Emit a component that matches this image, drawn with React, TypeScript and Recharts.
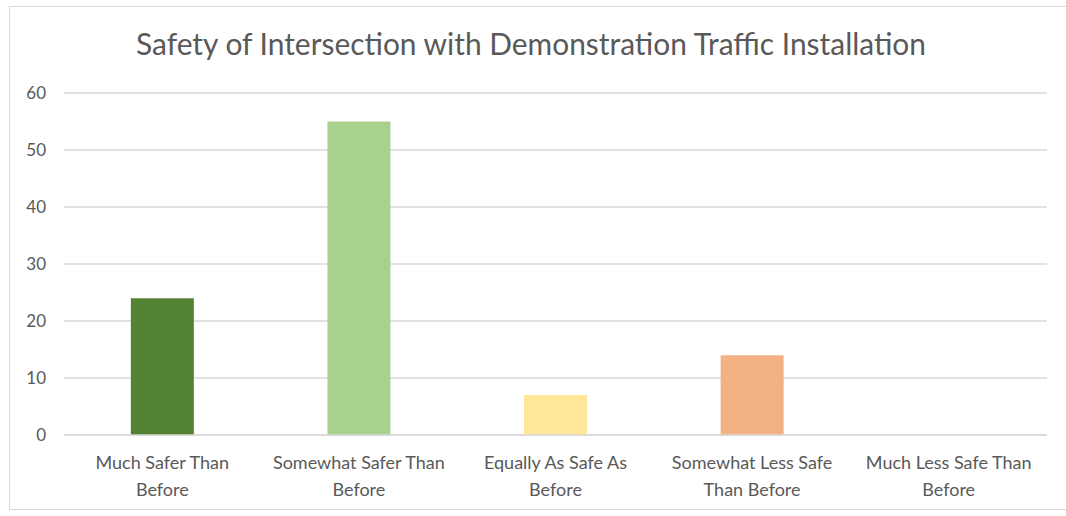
import React from "react";
import { BarChart, Bar, XAxis, YAxis, CartesianGrid, Cell } from "recharts";

const title = "Safety of Intersection with Demonstration Traffic Installation";
const categoryLines: string[][] = [
  ["Much Safer Than", "Before"],
  ["Somewhat Safer Than", "Before"],
  ["Equally As Safe As", "Before"],
  ["Somewhat Less Safe", "Than Before"],
  ["Much Less Safe Than", "Before"],
];
const categories = categoryLines.map((l) => l.join(" "));
const values = [24, 55, 7, 14, 0];
const barColors = ["#548235", "#a9d18e", "#ffe699", "#f4b183", "#c55a11"];
const yTicks = [0, 10, 20, 30, 40, 50, 60];

const data = categories.map((c, i) => ({ name: c, value: values[i] }));

const FONT = "Lato, 'Open Sans', sans-serif";
const GREY = "#595959";

const XTick = (props: any) => {
  const { x, y, payload } = props;
  const idx = categories.indexOf(payload.value);
  const lines = idx >= 0 ? categoryLines[idx] : [payload.value];
  return (
    <g>
      {lines.map((ln: string, i: number) => (
        <text
          key={i}
          x={x}
          y={y + 26 + i * 27}
          textAnchor="middle"
          fill={GREY}
          fontSize={18}
          fontFamily={FONT}
        >
          {ln}
        </text>
      ))}
    </g>
  );
};

export default function App() {
  return (
    <div
      style={{
        position: "absolute",
        left: 0,
        top: 0,
        width: 1066,
        height: 516,
        background: "#fff",
        overflow: "hidden",
      }}
    >
      <div
        style={{
          position: "absolute",
          left: 9,
          top: 6,
          width: 1080,
          height: 502,
          border: "1px solid #d9d9d9",
        }}
      />
      <svg
        width={1066}
        height={80}
        style={{ position: "absolute", left: 0, top: 0 }}
      >
        <text
          x={531}
          y={55}
          textAnchor="middle"
          fill={GREY}
          fontSize={30}
          fontWeight={400}
          fontFamily={FONT}
          textLength={790}
          lengthAdjust="spacingAndGlyphs"
        >
          {title}
        </text>
      </svg>
      <div style={{ position: "absolute", left: 0, top: 0 }}>
        <BarChart
          width={1066}
          height={516}
          data={data}
          margin={{ top: 93, right: 19, bottom: 21, left: 0 }}
          barCategoryGap="34%"
        >
          <CartesianGrid vertical={false} stroke="#d9d9d9" strokeWidth={1.5} />
          <XAxis
            dataKey="name"
            height={60}
            tickLine={false}
            axisLine={{ stroke: "#d9d9d9", strokeWidth: 1.5 }}
            tick={<XTick />}
            interval={0}
          />
          <YAxis
            width={64}
            domain={[0, 60]}
            ticks={yTicks}
            tickLine={false}
            axisLine={false}
            tickSize={10}
            tickMargin={8}
            tick={{ fill: GREY, fontSize: 17, fontFamily: FONT }}
          />
          <Bar dataKey="value" isAnimationActive={false}>
            {data.map((d, i) => (
              <Cell key={i} fill={barColors[i]} />
            ))}
          </Bar>
        </BarChart>
      </div>
    </div>
  );
}
